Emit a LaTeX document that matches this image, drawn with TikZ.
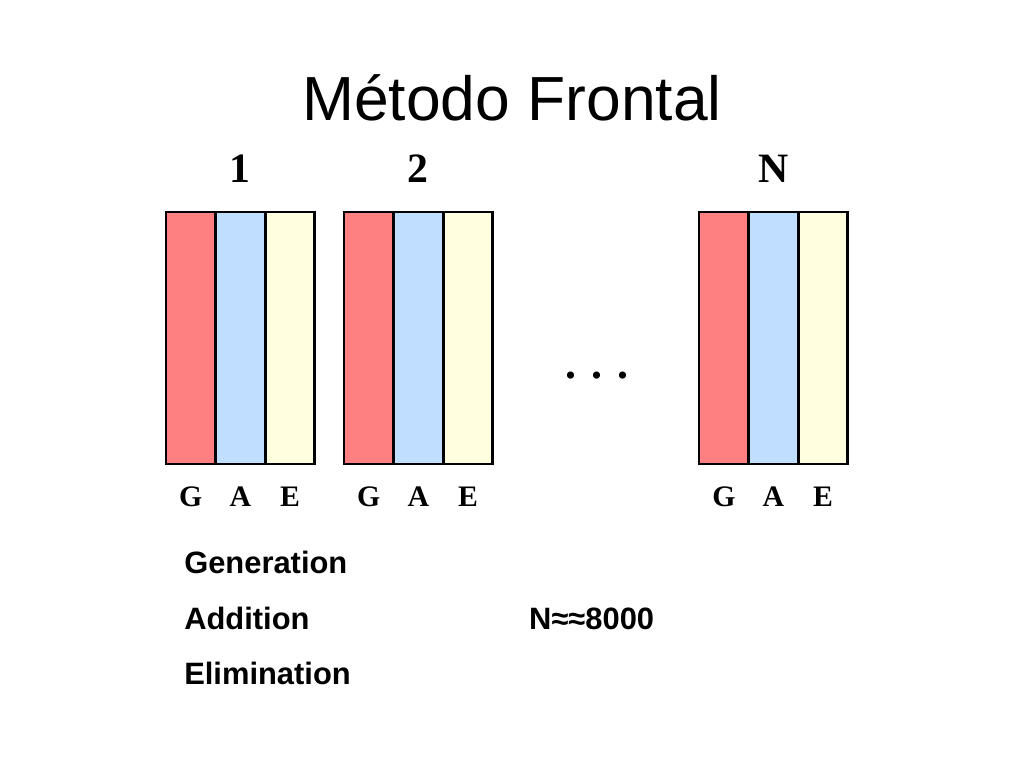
\documentclass[tikz,border=0pt]{standalone}
\usepackage{fontspec}
\setmainfont{Liberation Serif}
\newfontfamily\sansfont{Liberation Sans}
\usetikzlibrary{positioning}
\definecolor{genred}{RGB}{255,128,128}
\definecolor{addblue}{RGB}{192,222,255}
\definecolor{elimyellow}{RGB}{255,255,224}
\tikzset{
col/.style={rectangle,draw=black,line width=2pt,minimum width=1.23cm,minimum height=6.25cm,inner sep=0pt,outer sep=0pt,anchor=north west},
num/.style={font=\fontsize{29.5}{35}\selectfont\bfseries},
lab/.style={font=\fontsize{21}{25}\selectfont\bfseries},
word/.style={font=\sansfont\bfseries\fontsize{21.8}{26}\selectfont,anchor=base west,inner sep=0pt}
}

\begin{document}
\begin{tikzpicture}
\draw[fill=white,draw=none] (0,0) rectangle (25.4,19.05);
\node[font=\sansfont\fontsize{44}{53}\selectfont,anchor=base] (title) at (12.7,16.07) {Método Frontal};

\foreach \b/\x in {1/4.117,2/8.533,N/17.34}{
\node[col,fill=genred] (G\b) at (\x,13.79) {};
\node[col,fill=addblue] (A\b) at (G\b.north east) {};
\node[col,fill=elimyellow] (E\b) at (A\b.north east) {};
\node[num,above=0.6cm of A\b] (h\b) {\b};
\node[lab,below=0.45cm of G\b] (gl\b) {G};
\node[lab,below=0.45cm of A\b] (al\b) {A};
\node[lab,below=0.45cm of E\b] (el\b) {E};
}
\node[font=\fontsize{31}{36}\selectfont\bfseries] (dots) at (14.81,9.74) {. . .};

\node[word] (gen) at (4.564,4.836) {Generation};
\node[word] (add) at (4.564,3.447) {Addition};
\node[word] (elim) at (4.564,2.059) {Elimination};
\node[word] (size) at (13.12,3.447) {N≈≈8000};
\end{tikzpicture}
\end{document}
